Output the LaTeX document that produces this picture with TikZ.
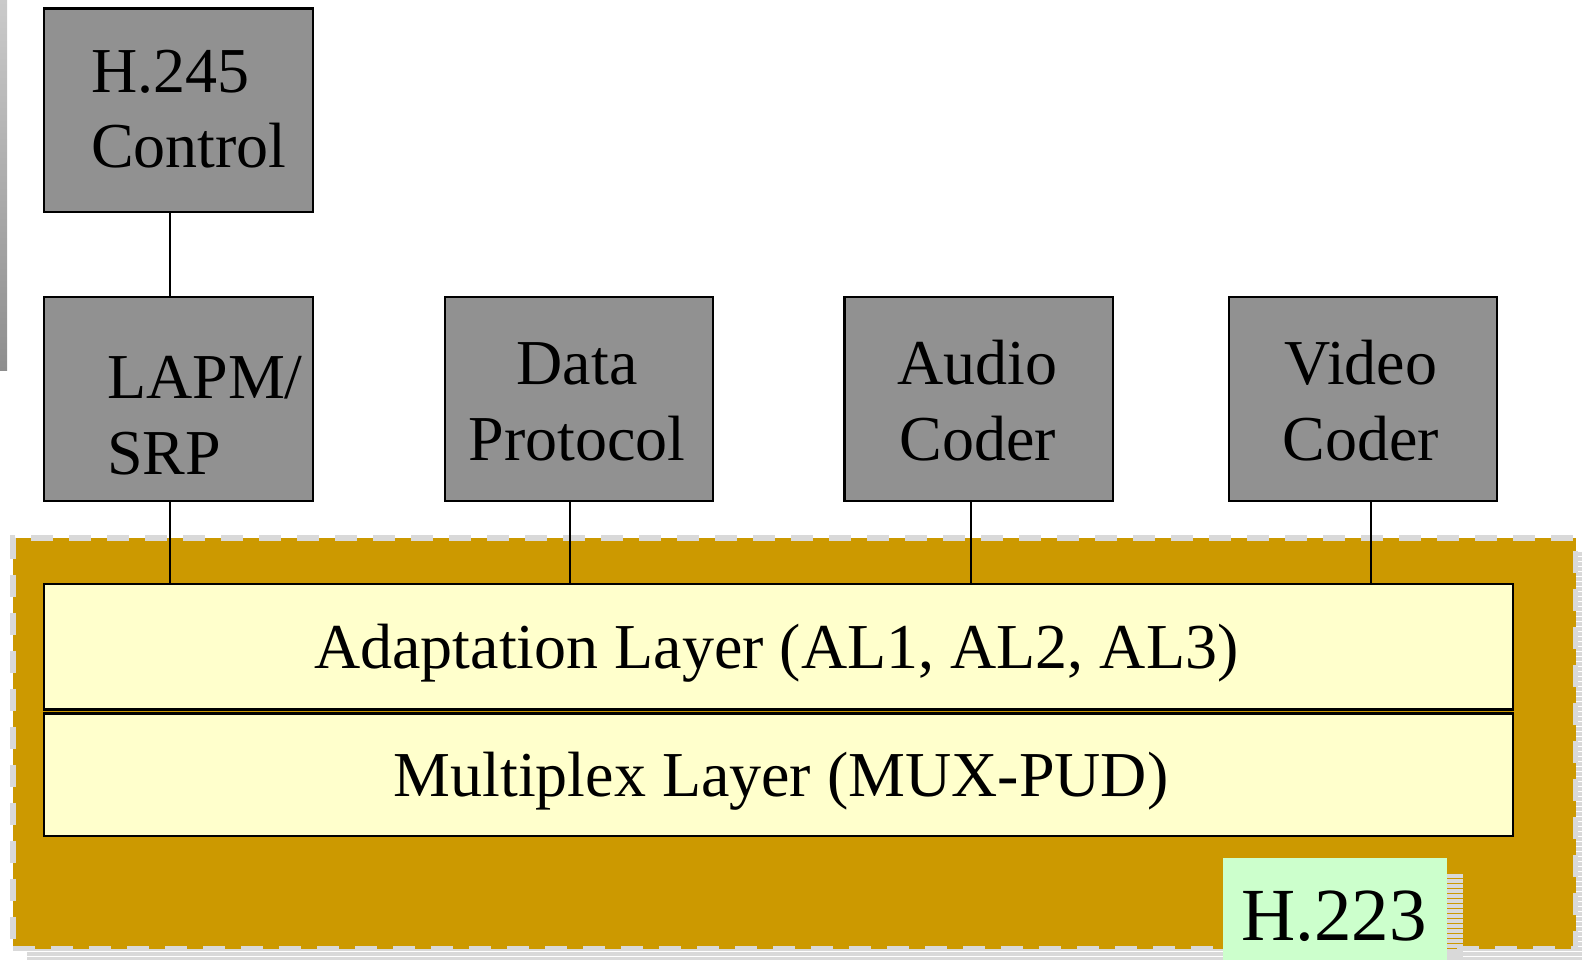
\documentclass[tikz,border=0pt]{standalone}
\usepackage{fontspec}
\setmainfont{Liberation Serif}
\definecolor{boxgray}{HTML}{919191}
\definecolor{gold}{HTML}{CC9900}
\definecolor{layeryellow}{HTML}{FFFFCC}
\definecolor{labelgreen}{HTML}{CCFFCC}
\definecolor{dashgray}{HTML}{D9D9D9}
\definecolor{shadowgray}{HTML}{D9D9D9}
\definecolor{bartop}{HTML}{CACACA}
\definecolor{barbot}{HTML}{8E8E8E}
\begin{document}
\begin{tikzpicture}[x=1pt,y=-1pt,
  graybox/.style={draw=black,line width=2.2pt,fill=boxgray,minimum width=268.4pt,minimum height=203.6pt,inner sep=0pt},
  layerbox/.style={draw=black,line width=2.2pt,fill=layeryellow,inner sep=0pt,outer sep=0pt,minimum width=1469pt,anchor=north west},
  lbl/.style={inner sep=0pt,font=\fontsize{64}{75}\selectfont},
  conn/.style={draw=black,line width=2pt}]
\useasboundingbox (0,0) rectangle (1582,960);
% left gradient bar
\shade[top color=bartop,bottom color=barbot] (0,0) rectangle (7,370);
% shadow of the H.223 area
\foreach \y in {552,557,...,960} \fill[shadowgray] (27,\y) rectangle (1582,\y+4);
% H.223 area
\node[fill=gold,draw=dashgray,line width=5.5pt,dash pattern=on 22pt off 16pt,inner sep=0pt,outer sep=0pt,
      minimum width=1562.5pt,minimum height=410.5pt,anchor=north west] (area) at (13,538) {};
% shadow of H.223 label
\foreach \y in {874,879,...,960} \fill[shadowgray] (1447,\y) rectangle (1463,\y+4);
\node[fill=labelgreen,inner sep=0pt,outer sep=0pt,minimum width=224pt,minimum height=102pt,anchor=north west] (h223box) at (1223,858) {};
\node[inner sep=0pt,font=\fontsize{75}{80}\selectfont,anchor=base] (h223) at (1334,940) {H.223};
% gray boxes
\node[graybox] (h245) at (178.5,110.3) {};
\node[graybox] (lapm) at (178.5,398.9) {};
\node[graybox] (data) at (579.1,398.9) {};
\node[graybox] (audio) at (978.6,398.9) {};
\node[graybox] (video) at (1363,398.9) {};
% layers
\node[layerbox,minimum height=125.5pt] (adapt) at (44.3,584) {};
\node[layerbox,minimum height=122.5pt] (mux) at (44.3,713.5) {};
% connectors
\coordinate (c0) at ([xshift=-8.5pt]h245.south);
\draw[conn] (c0) -- (c0 |- lapm.north);
\coordinate (c1) at ([xshift=-8.5pt]lapm.south);
\draw[conn] (c1) -- (c1 |- adapt.north);
\coordinate (c2) at ([xshift=-9.1pt]data.south);
\draw[conn] (c2) -- (c2 |- adapt.north);
\coordinate (c3) at ([xshift=-8pt]audio.south);
\draw[conn] (c3) -- (c3 |- adapt.north);
\coordinate (c4) at ([xshift=7.7pt]video.south);
\draw[conn] (c4) -- (c4 |- adapt.north);
% texts
\node[lbl,anchor=base west] (t1) at (91,93) {H.245};
\node[lbl,anchor=base west] (t2) at (91,168) {Control};
\node[lbl,anchor=base west] (t3) at (107,398) {LAPM/};
\node[lbl,anchor=base west] (t4) at (107,474) {SRP};
\node[lbl,anchor=base] (t5) at (577,384.5) {Data};
\node[lbl,anchor=base] (t6) at (577,460) {Protocol};
\node[lbl,anchor=base] (t7) at (977.6,384.5) {Audio};
\node[lbl,anchor=base] (t8) at (977.6,460) {Coder};
\node[lbl,anchor=base] (t9) at (1361,384.5) {Video};
\node[lbl,anchor=base] (t10) at (1361,460) {Coder};
\node[lbl,anchor=base] (t11) at (776.4,668) {Adaptation Layer (AL1, AL2, AL3)};
\node[lbl,anchor=base] (t12) at (781,796) {Multiplex Layer (MUX-PUD)};
\end{tikzpicture}
\end{document}
